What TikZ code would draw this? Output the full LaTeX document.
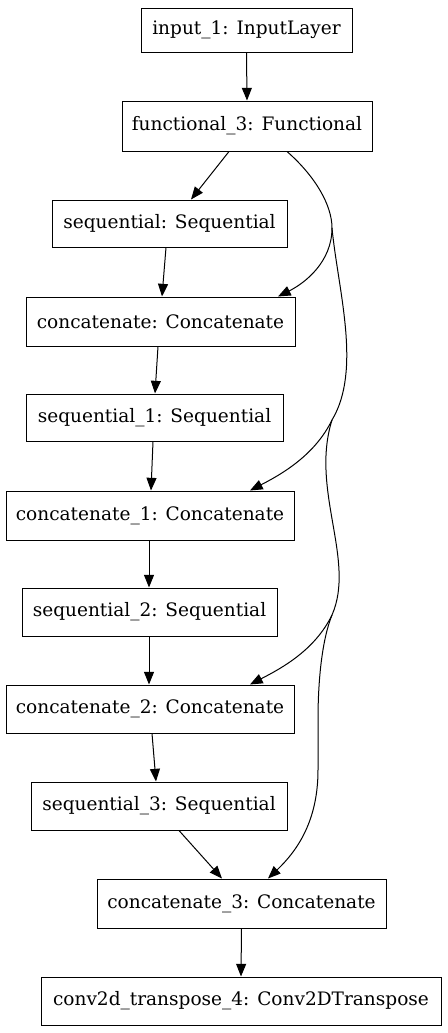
\documentclass[tikz,border=0pt]{standalone}
\usepackage{fontspec}
\newfontfamily\layerfont{DejaVu Serif}
\usetikzlibrary{arrows.meta}
\begin{document}
\begin{tikzpicture}[x=0.75pt,y=-0.75pt,
  layer/.style={draw=black, line width=0.75pt, inner sep=0pt, font=\layerfont\fontsize{13.9pt}{17pt}\selectfont},
  edge/.style={line width=0.75pt, -{Triangle[length=9.5pt,width=7.5pt]}},
  plain/.style={line width=0.75pt}]
\useasboundingbox (0,0) rectangle (447,1033);
% layers (box sizes given in pixel units of 0.75pt)
\node[layer, minimum width=0.75*211pt, minimum height=0.75*44pt] (in)   at (246.5,30)  {input\_1: InputLayer};
\node[layer, minimum width=0.75*250pt, minimum height=0.75*50pt] (fun)  at (247,126)   {functional\_3: Functional};
\node[layer, minimum width=0.75*235pt, minimum height=0.75*47pt] (s0)   at (169.5,223.5) {sequential: Sequential};
\node[layer, minimum width=0.75*269pt, minimum height=0.75*49pt] (c0)   at (160.5,321.5) {concatenate: Concatenate};
\node[layer, minimum width=0.75*257pt, minimum height=0.75*47pt] (s1)   at (154.5,417.5) {sequential\_1: Sequential};
\node[layer, minimum width=0.75*288pt, minimum height=0.75*49pt] (c1)   at (150,515.5) {concatenate\_1: Concatenate};
\node[layer, minimum width=0.75*255pt, minimum height=0.75*48pt] (s2)   at (149.5,612) {sequential\_2: Sequential};
\node[layer, minimum width=0.75*288pt, minimum height=0.75*48pt] (c2)   at (150,709)   {concatenate\_2: Concatenate};
\node[layer, minimum width=0.75*256pt, minimum height=0.75*48pt] (s3)   at (159,806)   {sequential\_3: Sequential};
\node[layer, minimum width=0.75*289pt, minimum height=0.75*49pt] (c3)   at (241.5,903.5) {concatenate\_3: Concatenate};
\node[layer, minimum width=0.75*400pt, minimum height=0.75*48pt] (conv) at (241,1001)  {conv2d\_transpose\_4: Conv2DTranspose};
% routing points of the skip connections
\coordinate (v1) at (332,228);
\coordinate (v2) at (332,420);
\coordinate (v3) at (332,615);
% main chain
\draw[edge] (in.south) -- (fun.north);
\draw[edge] (fun.south -| 229,0) -- (s0.north -| 191,0);
\draw[edge] (s0.south -| 166,0) -- (c0.north -| 162,0);
\draw[edge] (c0.south -| 158,0) -- (s1.north -| 155,0);
\draw[edge] (s1.south -| 153,0) -- (c1.north -| 151,0);
\draw[edge] (c1.south -| 149,0) -- (s2.north -| 149,0);
\draw[edge] (s2.south -| 149,0) -- (c2.north -| 149,0);
\draw[edge] (c2.south -| 152,0) -- (s3.north -| 156,0);
\draw[edge] (s3.south -| 179,0) -- (c3.north -| 222,0);
\draw[edge] (c3.south) -- (conv.north);
% skip connections from functional_3
\draw[plain] (fun.south -| 287,0) .. controls (315,176) and (332,205) .. (v1);
\draw[edge] (v1) .. controls (332,262) and (305,283) .. (c0.north -| 278,0);
\draw[plain] (v1) .. controls (338,290) and (362,370) .. (v2);
\draw[edge] (v2) .. controls (315,455) and (282,474) .. (c1.north -| 250,0);
\draw[plain] (v2) .. controls (310,490) and (356,560) .. (v3);
\draw[edge] (v3) .. controls (315,650) and (282,668) .. (c2.north -| 250,0);
\draw[edge] (v3) .. controls (322,640) and (318,680) .. (318,720)
  -- (318,770) .. controls (318,820) and (298,850) .. (c3.north -| 268,0);
\end{tikzpicture}
\end{document}
